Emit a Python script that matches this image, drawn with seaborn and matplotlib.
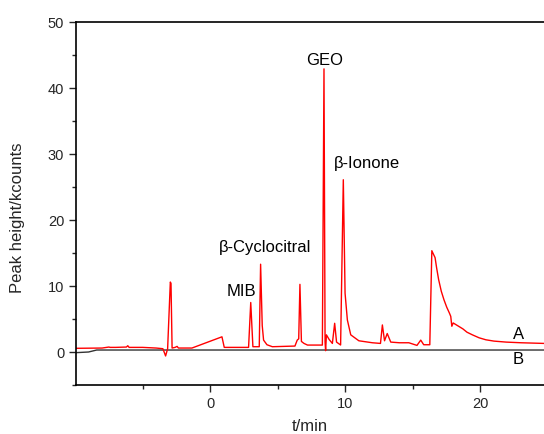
import pandas as pd
import seaborn as sns
import matplotlib.pyplot as plt
from matplotlib.ticker import MultipleLocator

# Chromatogram A (red) - time in min, peak height in kcounts
time_a = [-9.93, -8.0, -7.5, -7.4, -7.0, -6.2, -6.1, -6.0, -5.0, -4.0, -3.5, -3.3, -3.15,
          -2.95, -2.9, -2.82, -2.6, -2.45, -2.35, -2.2, -1.35, 0.87, 1.04, 2.84, 3.0,
          3.16, 3.63, 3.73, 3.85, 3.95, 4.2, 4.6, 6.27, 6.44, 6.55, 6.64, 6.75, 6.94,
          7.2, 8.3, 8.42, 8.5, 8.54, 8.6, 8.8, 9.04, 9.21, 9.35, 9.65, 9.85, 9.98, 10.15,
          10.4, 11.0, 12.0, 12.6, 12.74, 12.9, 13.1, 13.36, 14.0, 14.7, 15.3, 15.58,
          15.8, 16.25, 16.4, 16.5, 16.64, 16.75, 16.9, 17.1, 17.3, 17.5, 17.7, 17.8,
          17.88, 17.98, 18.3, 18.7, 19.0, 19.4, 19.9, 20.4, 21.0, 21.9, 23.0, 24.7]
signal_a = [0.56, 0.6, 0.75, 0.7, 0.7, 0.75, 0.95, 0.7, 0.7, 0.6, 0.5, -0.6, 0.5,
            10.6, 10.4, 0.6, 0.7, 0.85, 0.6, 0.6, 0.6, 2.3, 0.7, 0.7, 7.5,
            0.8, 0.8, 13.3, 4.0, 1.8, 1.1, 0.8, 0.9, 1.8, 2.0, 10.25, 1.6, 1.3,
            1.05, 1.05, 42.9, 1.5, 0.2, 2.6, 1.9, 1.3, 4.35, 1.5, 1.06, 26.1, 8.9, 4.85,
            2.6, 1.7, 1.4, 1.3, 4.1, 1.7, 2.8, 1.5, 1.4, 1.4, 1.0, 1.8,
            1.1, 1.1, 15.35, 14.9, 14.3, 12.8, 11.0, 9.2, 7.9, 6.8, 5.9, 5.4,
            3.9, 4.4, 4.0, 3.5, 3.0, 2.6, 2.15, 1.85, 1.65, 1.5, 1.4, 1.3]

# Chromatogram B (black)
time_b = [-9.93, -9.0, -8.4, -5.0, 0.0, 8.0, 15.0, 24.7]
signal_b = [-0.1, 0.0, 0.3, 0.3, 0.3, 0.3, 0.3, 0.3]

df_a = pd.DataFrame({'t': time_a, 'h': signal_a})
df_b = pd.DataFrame({'t': time_b, 'h': signal_b})

# Peak labels
peak_names = ['MIB', 'β-Cyclocitral', 'GEO', 'β-Ionone', 'A', 'B']
peak_x = [2.3, 4.07, 8.5, 11.57, 22.8, 22.8]
peak_y = [9.2, 15.8, 44.2, 28.6, 2.7, -1.1]

sns.set_style('ticks')
plt.rcParams['font.family'] = ['Liberation Sans', 'DejaVu Sans']

fig = plt.figure(figsize=(5.44, 4.34), dpi=100)
ax = fig.add_axes([76 / 544, 1 - 385 / 434, 468 / 544, 363 / 434])

sns.lineplot(data=df_b, x='t', y='h', ax=ax, color='#333333', linewidth=1.0)
sns.lineplot(data=df_a, x='t', y='h', ax=ax, color='red', linewidth=1.0)

for name, x, y in zip(peak_names, peak_x, peak_y):
    ax.text(x, y, name, ha='center', va='center', fontsize=12, color='black')

ax.set_xlim(-9.93, 24.7)
ax.set_ylim(-5, 50)
ax.xaxis.set_minor_locator(MultipleLocator(5))
ax.yaxis.set_major_locator(MultipleLocator(10))
ax.yaxis.set_minor_locator(MultipleLocator(5))
ax.set_xticks([0, 10, 20])
ax.tick_params(which='major', length=5, width=1, labelsize=10.5, direction='out')
ax.tick_params(which='minor', length=3, width=1, direction='out')

ax.spines['right'].set_visible(False)
for s in ['left', 'bottom', 'top']:
    ax.spines[s].set_linewidth(1.2)
    ax.spines[s].set_color('black')

ax.set_xlabel('t/min', fontsize=12)
ax.set_ylabel('Peak height/kcounts', fontsize=12)
ax.xaxis.set_label_coords(0.50, -0.093)
ax.yaxis.set_label_coords(-0.109, 0.461)

fig.savefig('out.png', dpi=100)
